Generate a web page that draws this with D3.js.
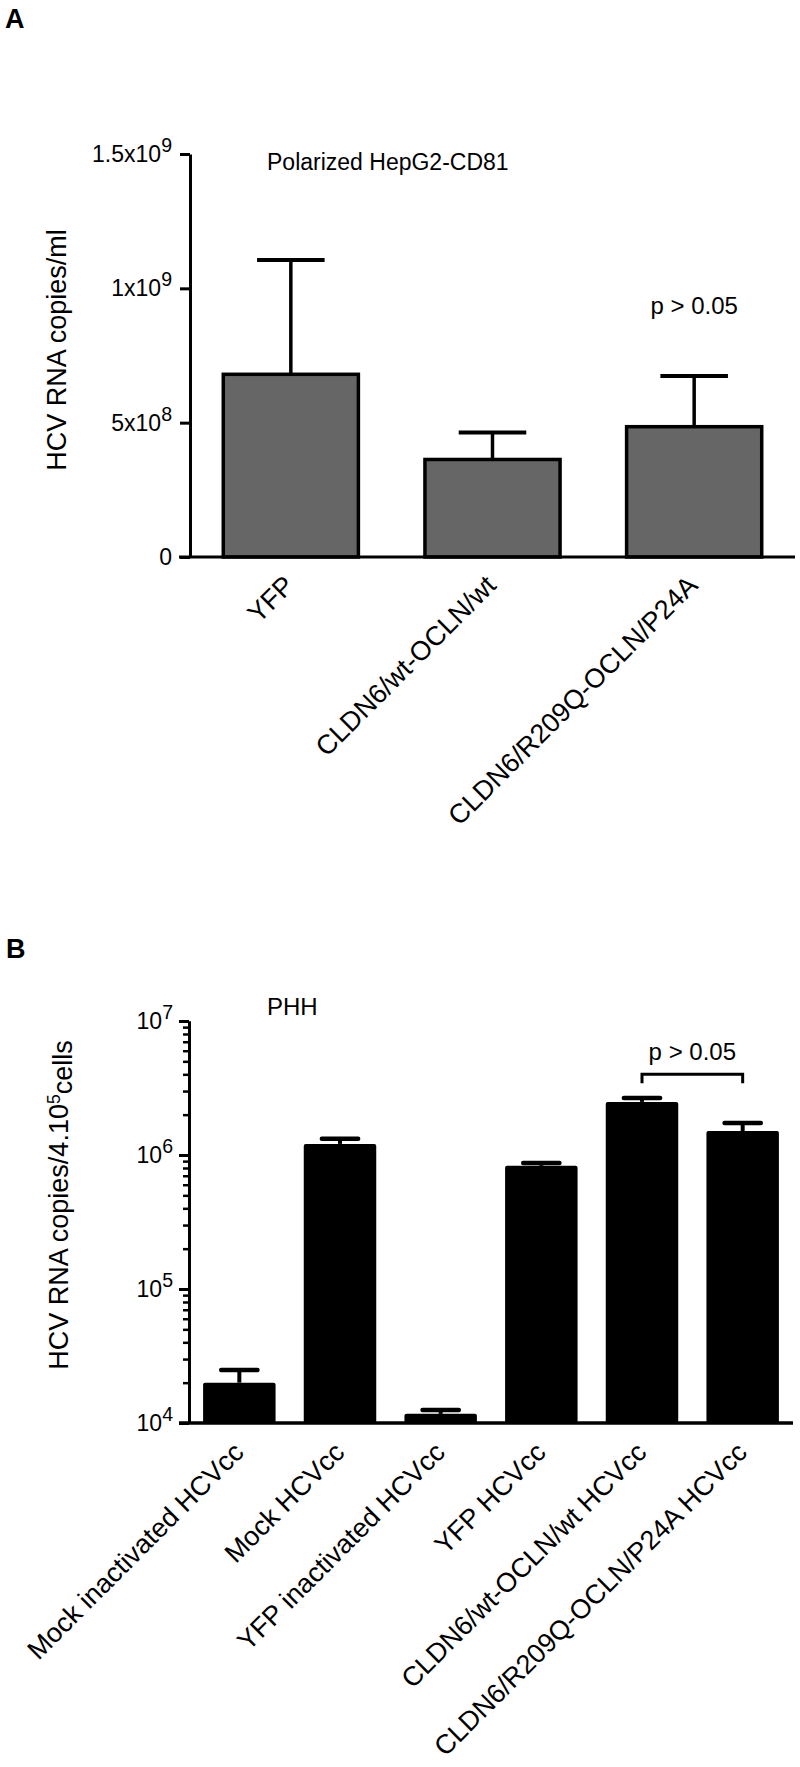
<!DOCTYPE html>
<html><head><meta charset="utf-8">
<script src="https://cdn.jsdelivr.net/npm/d3@7"></script>
<style>
body{margin:0;background:#fff}
svg{display:block}
text{font-family:Arial,"Liberation Sans",Helvetica,sans-serif;fill:#000}
</style>
</head><body>
<svg id="c" width="800" height="1767"></svg>
<script>
// ---------- Panel A data ----------
const catsA = ["YFP", "CLDN6/wt-OCLN/wt", "CLDN6/R209Q-OCLN/P24A"];
const meanA = [6.8e8, 3.63e8, 4.85e8];
const errA  = [4.25e8, 1.0e8, 1.89e8];
const ticksA = [0, 5e8, 1e9, 1.5e9];
const tickBaseA = ["0", "5x10", "1x10", "1.5x10"];
const tickSupA  = ["", "8", "9", "9"];
const titleA = "Polarized HepG2-CD81";
const yTitleA = "HCV RNA copies/ml";
const pTextA = "p > 0.05";

// ---------- Panel B data ----------
const catsB = ["Mock inactivated HCVcc", "Mock HCVcc", "YFP inactivated HCVcc", "YFP HCVcc",
               "CLDN6/wt-OCLN/wt HCVcc", "CLDN6/R209Q-OCLN/P24A HCVcc"];
const meanB = [2.0e4, 1.21e6, 1.17e4, 8.3e5, 2.49e6, 1.51e6];
const errB  = [0.49e4, 0.11e6, 0.08e4, 0.4e5, 0.17e6, 0.22e6];
const ticksB = [1e4, 1e5, 1e6, 1e7];
const tickBaseB = ["10", "10", "10", "10"];
const tickSupB  = ["4", "5", "6", "7"];
const titleB = "PHH";
const pTextB = "p > 0.05";

const svg = d3.select("#c");

function supLabels(sel, bases, sups) {
  sel.selectAll(".tick text").each(function(d, i) {
    const t = d3.select(this);
    t.text(null);
    t.append("tspan").text(bases[i]);
    if (sups[i]) t.append("tspan").attr("dy", "-0.5em").attr("font-size", "0.85em").text(sups[i]);
  });
}

// ================= Panel A =================
const gA = svg.append("g");
gA.append("text").attr("x", 5).attr("y", 28).attr("font-size", 27).attr("font-weight", "bold").text("A");

const xA = d3.scaleBand().domain(catsA).range([190, 795]).paddingInner(0.33).paddingOuter(0.165);
const yA = d3.scaleLinear().domain([0, 1.5e9]).range([557, 154]);

gA.selectAll("rect.bar").data(catsA).join("rect")
  .attr("x", d => xA(d)).attr("width", xA.bandwidth())
  .attr("y", (d, i) => yA(meanA[i])).attr("height", (d, i) => yA(0) - yA(meanA[i]))
  .attr("fill", "#666666").attr("stroke", "#000").attr("stroke-width", 3.5);

const capA = xA.bandwidth() * 0.5;
catsA.forEach((c, i) => {
  const cx = xA(c) + xA.bandwidth() / 2;
  gA.append("line").attr("x1", cx).attr("x2", cx).attr("y1", yA(meanA[i]))
    .attr("y2", yA(meanA[i] + errA[i])).attr("stroke", "#000").attr("stroke-width", 3.5);
  gA.append("line").attr("x1", cx - capA / 2).attr("x2", cx + capA / 2)
    .attr("y1", yA(meanA[i] + errA[i])).attr("y2", yA(meanA[i] + errA[i]))
    .attr("stroke", "#000").attr("stroke-width", 4);
});

const axA = gA.append("g").attr("transform", "translate(190,0)")
  .call(d3.axisLeft(yA).tickValues(ticksA).tickSize(10).tickSizeOuter(0).tickPadding(8));
axA.select(".domain").attr("stroke-width", 3);
axA.selectAll(".tick line").attr("stroke-width", 3);
axA.selectAll(".tick text").attr("font-size", 23);
supLabels(axA, tickBaseA, tickSupA);

const axXA = gA.append("g").attr("transform", "translate(0,557)")
  .call(d3.axisBottom(xA).tickSize(0).tickSizeOuter(0));
axXA.select(".domain").attr("d", `M${xA.range()[0] - 11},0H${xA.range()[1]}`).attr("stroke-width", 3);
axXA.selectAll(".tick text").attr("font-size", 27).attr("text-anchor", "end")
  .attr("x", 5).attr("y", 30).attr("dy", 0).attr("transform", "rotate(-45,5,30)");

gA.append("text").attr("x", 267).attr("y", 170).attr("font-size", 23).text(titleA);
gA.append("text").attr("transform", "translate(66,350) rotate(-90)").attr("text-anchor", "middle")
  .attr("font-size", 27).text(yTitleA);
gA.append("text").attr("x", xA(catsA[2]) + xA.bandwidth() / 2).attr("y", yA(9.05e8))
  .attr("text-anchor", "middle").attr("font-size", 24).text(pTextA);

// ================= Panel B =================
const gB = svg.append("g");
gB.append("text").attr("x", 6).attr("y", 958).attr("font-size", 27).attr("font-weight", "bold").text("B");

const xB = d3.scaleBand().domain(catsB).range([189, 793]).paddingInner(0.28).paddingOuter(0.14);
const yB = d3.scaleLog().domain([1e4, 1e7]).range([1423, 1021]);

gB.selectAll("rect.bar").data(catsB).join("rect")
  .attr("x", d => xB(d)).attr("width", xB.bandwidth())
  .attr("y", (d, i) => yB(meanB[i])).attr("height", (d, i) => yB(1e4) - yB(meanB[i]))
  .attr("rx", 2).attr("fill", "#000");

const capB = xB.bandwidth() * 0.5;
catsB.forEach((c, i) => {
  const cx = xB(c) + xB.bandwidth() / 2;
  gB.append("line").attr("x1", cx).attr("x2", cx).attr("y1", yB(meanB[i]))
    .attr("y2", yB(meanB[i] + errB[i])).attr("stroke", "#000").attr("stroke-width", 4);
  gB.append("line").attr("x1", cx - capB / 2).attr("x2", cx + capB / 2)
    .attr("y1", yB(meanB[i] + errB[i])).attr("y2", yB(meanB[i] + errB[i]))
    .attr("stroke", "#000").attr("stroke-width", 4.5).attr("stroke-linecap", "round");
});

const minorB = yB.ticks().filter(v => ticksB.indexOf(v) < 0);
const axBm = gB.append("g").attr("transform", "translate(189,0)")
  .call(d3.axisLeft(yB).tickValues(minorB).tickSize(6).tickSizeOuter(0).tickFormat(""));
axBm.selectAll(".tick line").attr("stroke-width", 2.5);
axBm.select(".domain").attr("stroke-width", 3);
const axB = gB.append("g").attr("transform", "translate(189,0)")
  .call(d3.axisLeft(yB).tickValues(ticksB).tickSize(10).tickSizeOuter(0).tickPadding(6));
axB.select(".domain").attr("stroke-width", 3);
axB.selectAll(".tick line").attr("stroke-width", 3);
axB.selectAll(".tick text").attr("font-size", 23);
supLabels(axB, tickBaseB, tickSupB);

const axXB = gB.append("g").attr("transform", "translate(0,1423)")
  .call(d3.axisBottom(xB).tickSize(0).tickSizeOuter(0));
axXB.select(".domain").attr("d", `M${xB.range()[0] - 10},0H${xB.range()[1]}`).attr("stroke-width", 3.5);
axXB.selectAll(".tick text").attr("font-size", 27).attr("text-anchor", "end")
  .attr("x", 6).attr("y", 31).attr("dy", 0).attr("transform", "rotate(-45,6,31)");

gB.append("text").attr("x", 267).attr("y", 1015).attr("font-size", 24).text(titleB);
const yTB = gB.append("text").attr("transform", "translate(68,1205) rotate(-90)").attr("text-anchor", "middle")
  .attr("font-size", 27);
yTB.append("tspan").text("HCV RNA copies/4.10");
yTB.append("tspan").attr("dy", "-0.45em").attr("font-size", "0.65em").text("5");
yTB.append("tspan").attr("dy", "0.45em").text("cells");

const b1 = xB(catsB[4]) + xB.bandwidth() / 2, b2 = xB(catsB[5]) + xB.bandwidth() / 2;
const by = yB(4.0e6);
gB.append("path").attr("d", `M${b1},${by + 9}V${by}H${b2}V${by + 9}`)
  .attr("fill", "none").attr("stroke", "#000").attr("stroke-width", 3);
gB.append("text").attr("x", (b1 + b2) / 2).attr("y", by - 14).attr("text-anchor", "middle")
  .attr("font-size", 24).text(pTextB);
</script>
</body></html>
